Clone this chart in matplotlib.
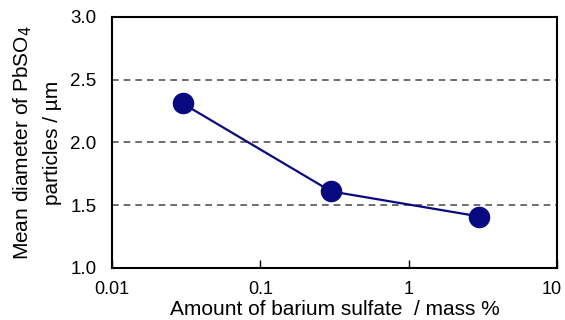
import matplotlib
matplotlib.use("Agg")
import matplotlib.pyplot as plt
import matplotlib.transforms as mtransforms
from matplotlib.ticker import FixedLocator, NullLocator, FixedFormatter

plt.rcParams['font.family'] = ['Liberation Sans', 'DejaVu Sans']

# data
amount = [0.03, 0.3, 3]
diameter = [2.31, 1.61, 1.41]
xticks = [0.01, 0.1, 1, 10]
xticklabels = ['0.01', '0.1', '1', '10']
yticks = [1.0, 1.5, 2.0, 2.5, 3.0]

fig = plt.figure(figsize=(5.65, 3.2), dpi=100)
ax = fig.add_axes([0.198, 0.1625, 0.788, 0.785])

for y in [1.5, 2.0, 2.5]:
    ax.axhline(y, color='#555555', linestyle=(0, (4, 3)), linewidth=1.2, zorder=1)

ax.plot(amount, diameter, color='#0a0a80', linewidth=1.6, marker='o',
        markersize=14.5, markerfacecolor='#0a0a80', markeredgecolor='#0a0a80', zorder=3)

ax.set_xscale('log')
ax.set_xlim(0.01, 10)
ax.set_ylim(1.0, 3.0)
ax.xaxis.set_major_locator(FixedLocator(xticks))
ax.xaxis.set_major_formatter(FixedFormatter(xticklabels))
ax.xaxis.set_minor_locator(NullLocator())
ax.set_yticks(yticks)
ax.set_yticklabels(['%.1f' % v for v in yticks])
ax.tick_params(axis='x', direction='in', length=6, width=1, labelsize=13, pad=9)
ax.tick_params(axis='y', length=0, labelsize=13.5, pad=11)
for sp in ax.spines.values():
    sp.set_linewidth(1.5)

# nudge the last x tick label so it stays inside the figure
fig.canvas.draw()
last = ax.get_xticklabels()[-1]
last.set_transform(last.get_transform() +
                   mtransforms.ScaledTranslation(-5 / 100, 0, fig.dpi_scale_trans))

ax.set_xlabel('Amount of barium sulfate  / mass %', fontsize=15, labelpad=2)
ax.set_ylabel('Mean diameter of PbSO$_4$\nparticles / µm', fontsize=15,
              labelpad=6, linespacing=1.6, multialignment='center')

fig.savefig('out.png', dpi=100)
